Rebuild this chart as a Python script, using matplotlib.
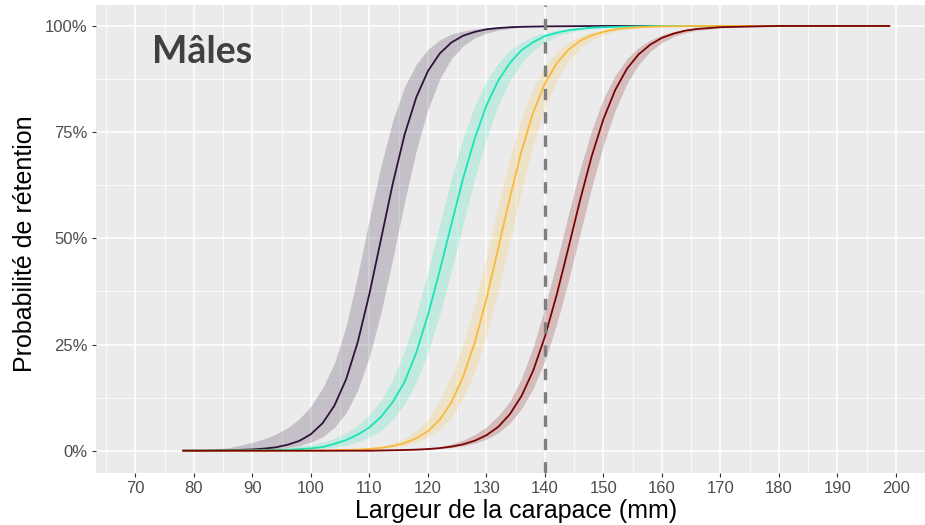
import matplotlib
matplotlib.use("Agg")
import matplotlib.pyplot as plt
from matplotlib.ticker import FixedLocator, PercentFormatter

# carapace width (mm) and retention probability
x_purple = [78, 82, 86, 90, 92, 94, 96, 98, 100, 102, 104, 106, 108, 110, 112, 114,
            116, 118, 120, 122, 124, 126, 128, 130, 132, 134, 136, 140, 150, 199]
y_purple = [0.000, 0.000, 0.001, 0.003, 0.005, 0.008, 0.014, 0.023, 0.039, 0.065, 0.106,
            0.168, 0.256, 0.370, 0.500, 0.630, 0.744, 0.832, 0.894, 0.935, 0.961, 0.977,
            0.986, 0.992, 0.995, 0.997, 0.998, 0.999, 1.000, 1.000]
hi_purple = [0.001, 0.003, 0.007, 0.020, 0.028, 0.039, 0.054, 0.075, 0.105, 0.148, 0.205,
             0.293, 0.414, 0.547, 0.673, 0.778, 0.857, 0.910, 0.945, 0.967, 0.981, 0.988,
             0.993, 0.996, 0.998, 0.999, 0.999, 1.000, 1.000, 1.000]
lo_purple = [0.000, 0.000, 0.000, 0.001, 0.002, 0.004, 0.007, 0.012, 0.020, 0.033, 0.055,
             0.089, 0.143, 0.222, 0.327, 0.453, 0.586, 0.707, 0.804, 0.875, 0.923, 0.953,
             0.972, 0.983, 0.990, 0.994, 0.997, 0.999, 1.000, 1.000]

x_teal = [78, 90, 96, 100, 102, 104, 106, 108, 110, 112, 114, 116, 118, 120, 122, 124,
          126, 128, 130, 132, 134, 136, 138, 140, 142, 144, 146, 148, 150, 156, 160, 170, 199]
y_teal = [0.000, 0.001, 0.002, 0.0055, 0.0085, 0.016, 0.025, 0.038, 0.055, 0.080, 0.115,
          0.162, 0.231, 0.320, 0.423, 0.533, 0.641, 0.735, 0.813, 0.871, 0.913, 0.943,
          0.962, 0.976, 0.984, 0.990, 0.993, 0.996, 0.997, 0.999, 1.000, 1.000, 1.000]
hi_teal = [0.000, 0.003, 0.007, 0.014, 0.020, 0.029, 0.042, 0.060, 0.085, 0.120, 0.168,
           0.235, 0.320, 0.423, 0.533, 0.641, 0.735, 0.813, 0.871, 0.913, 0.943, 0.962,
           0.976, 0.984, 0.990, 0.993, 0.996, 0.997, 0.998, 0.999, 1.000, 1.000, 1.000]
lo_teal = [0.000, 0.000, 0.001, 0.0035, 0.0055, 0.0085, 0.013, 0.0205, 0.032, 0.048, 0.074,
           0.110, 0.162, 0.231, 0.320, 0.423, 0.533, 0.641, 0.735, 0.813, 0.871, 0.913,
           0.943, 0.962, 0.976, 0.984, 0.990, 0.993, 0.996, 0.999, 1.000, 1.000, 1.000]

x_orange = [78, 100, 106, 108, 110, 112, 114, 116, 118, 120, 122, 124, 126, 128, 130, 132,
            134, 136, 138, 140, 142, 144, 146, 148, 150, 152, 154, 156, 158, 160, 166, 170, 199]
y_orange = [0.000, 0.000, 0.0016, 0.0026, 0.0042, 0.0068, 0.0111, 0.018, 0.029, 0.046, 0.073,
            0.114, 0.174, 0.255, 0.358, 0.476, 0.596, 0.706, 0.797, 0.865, 0.912, 0.944,
            0.965, 0.978, 0.986, 0.992, 0.995, 0.997, 0.998, 0.999, 1.000, 1.000, 1.000]
hi_orange = [0.000, 0.001, 0.0025, 0.004, 0.0064, 0.0105, 0.017, 0.030, 0.047, 0.075, 0.118,
             0.175, 0.250, 0.343, 0.458, 0.578, 0.690, 0.783, 0.855, 0.905, 0.939, 0.962,
             0.976, 0.985, 0.991, 0.995, 0.997, 0.998, 0.999, 0.999, 1.000, 1.000, 1.000]
lo_orange = [0.000, 0.000, 0.001, 0.0017, 0.0028, 0.0046, 0.0074, 0.012, 0.020, 0.032, 0.050,
             0.079, 0.123, 0.186, 0.270, 0.376, 0.494, 0.613, 0.720, 0.807, 0.872, 0.917,
             0.947, 0.967, 0.979, 0.987, 0.992, 0.995, 0.997, 0.998, 0.999, 1.000, 1.000]

x_red = [78, 110, 116, 118, 120, 122, 124, 126, 128, 130, 132, 134, 136, 138, 140, 142,
         144, 146, 148, 150, 152, 154, 156, 158, 160, 162, 164, 166, 168, 170, 176, 180, 199]
y_red = [0.000, 0.000, 0.0016, 0.0025, 0.0039, 0.0061, 0.0096, 0.015, 0.0235, 0.0365, 0.056,
         0.086, 0.129, 0.189, 0.269, 0.367, 0.477, 0.590, 0.694, 0.781, 0.849, 0.899,
         0.933, 0.956, 0.972, 0.982, 0.989, 0.993, 0.995, 0.997, 0.999, 1.000, 1.000]
hi_red = [0.000, 0.001, 0.0022, 0.0035, 0.0054, 0.0086, 0.016, 0.025, 0.038, 0.056, 0.082,
          0.116, 0.171, 0.245, 0.338, 0.444, 0.556, 0.663, 0.755, 0.829, 0.884, 0.923,
          0.949, 0.967, 0.979, 0.987, 0.992, 0.994, 0.996, 0.998, 0.999, 1.000, 1.000]
lo_red = [0.000, 0.000, 0.001, 0.0019, 0.0029, 0.0046, 0.0072, 0.0112, 0.0176, 0.0274, 0.042,
          0.065, 0.099, 0.147, 0.213, 0.298, 0.400, 0.511, 0.621, 0.720, 0.801, 0.864,
          0.909, 0.940, 0.961, 0.975, 0.984, 0.990, 0.992, 0.996, 0.998, 0.999, 1.000]

colours = ["#30123B", "#1AE4B6", "#FABA39", "#7A0403"]
x_ticks = [70, 80, 90, 100, 110, 120, 130, 140, 150, 160, 170, 180, 190, 200]
y_ticks = [0, 0.25, 0.5, 0.75, 1.0]
legal_size = 140

series = [
    (x_purple, y_purple, lo_purple, hi_purple),
    (x_teal, y_teal, lo_teal, hi_teal),
    (x_orange, y_orange, lo_orange, hi_orange),
    (x_red, y_red, lo_red, hi_red),
]

fig = plt.figure(figsize=(9.25, 5.25), dpi=100)
ax = fig.add_axes([96 / 925, 1 - 472.7 / 525, 1 - 96 / 925, (472.7 - 4.7) / 525])
ax.set_facecolor("#EBEBEB")

# ggplot-like grid
ax.xaxis.set_major_locator(FixedLocator(x_ticks))
ax.xaxis.set_minor_locator(FixedLocator([t + 5 for t in x_ticks] + [65]))
ax.yaxis.set_major_locator(FixedLocator(y_ticks))
ax.yaxis.set_minor_locator(FixedLocator([0.125, 0.375, 0.625, 0.875]))
ax.grid(which="major", color="white", linewidth=1.1)
ax.grid(which="minor", color="white", linewidth=0.55)
ax.set_axisbelow(True)
for s in ax.spines.values():
    s.set_visible(False)

# ribbons first, then the lines on top
for (xs, ys, lo, hi), c in zip(series, colours):
    ax.fill_between(xs, lo, hi, color=c, alpha=0.2, linewidth=0)
for (xs, ys, lo, hi), c in zip(series, colours):
    ax.plot(xs, ys, color=c, linewidth=1.3, solid_capstyle="butt")

ax.axvline(legal_size, color="#7F7F7F", linewidth=2.4, dashes=(3.4, 3.6))

ax.set_xlim(63.25, 204.96)
ax.set_ylim(-0.0518, 1.050)
ax.yaxis.set_major_formatter(PercentFormatter(1.0, decimals=0))

ax.tick_params(which="major", length=3, width=0.8, color="#333333",
               labelsize=12, labelcolor="#4D4D4D", pad=3)
ax.tick_params(which="minor", length=0)
for lab in ax.get_xticklabels() + ax.get_yticklabels():
    lab.set_family("Liberation Sans")

fig.text(515.8 / 925, 1 - 518 / 525, "Largeur de la carapace (mm)", ha="center",
         va="baseline", fontsize=18, family="Liberation Sans")
fig.text(25 / 925, 1 - 244 / 525, "Probabilité de rétention", ha="center", va="center",
         rotation=90, fontsize=18, family="Liberation Sans")
fig.text(151.7 / 925, 1 - 63.3 / 525, "Mâles", ha="left", va="baseline",
         fontsize=27, fontweight="bold", color="#404040", family="Lato")

fig.savefig("out.png", dpi=100)
